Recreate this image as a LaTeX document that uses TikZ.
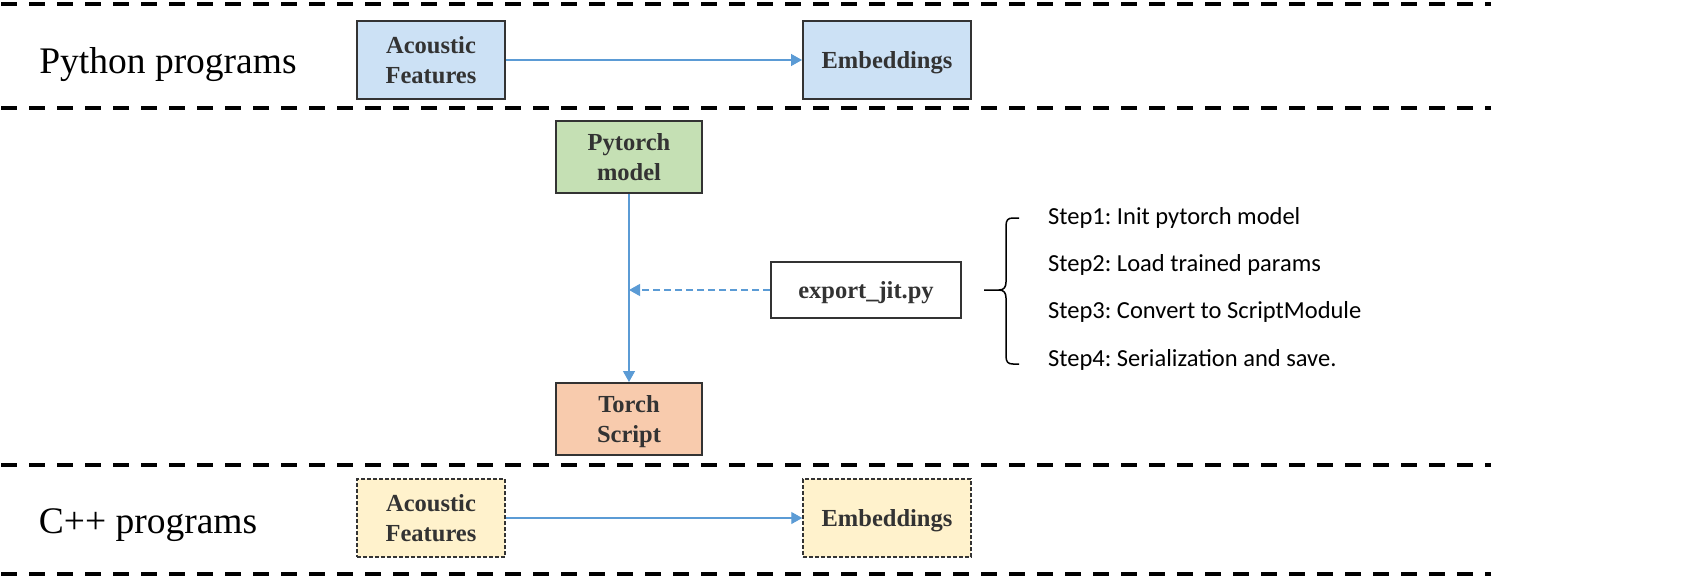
\documentclass[tikz,border=0pt]{standalone}
\usepackage{fontspec}
\setmainfont{Liberation Serif}
\newfontfamily\stepfont{Carlito}
\usetikzlibrary{arrows.meta}
\frenchspacing
\definecolor{bluefill}{HTML}{CCE1F5}
\definecolor{greenfill}{HTML}{C5E0B4}
\definecolor{orangefill}{HTML}{F8CBAD}
\definecolor{yellowfill}{HTML}{FFF2CC}
\definecolor{arrowblue}{HTML}{5B9BD5}
\definecolor{boxline}{HTML}{333333}
\tikzset{
  box/.style={draw=boxline, line width=2pt, inner sep=0pt, align=center, text depth=0pt,
    text=boxline, font=\fontsize{24.5}{30}\selectfont\bfseries},
  dbox/.style={box, line width=1.5pt, dash pattern=on 4pt off 2pt},
  flow/.style={draw=arrowblue, line width=1.3pt, -{Triangle[length=11pt,width=12pt]}},
  dflow/.style={flow, dash pattern=on 7pt off 4pt},
  sep/.style={line width=4pt, dash pattern=on 16pt off 12pt},
  lane/.style={text depth=0pt, font=\fontsize{37.5}{45}\selectfont},
  steptext/.style={anchor=base west, inner sep=0pt, font=\stepfont\fontsize{24.5}{30}\selectfont},
}
\begin{document}
\begin{tikzpicture}[x=1pt, y=-1pt]
\useasboundingbox (0,0) rectangle (1701,578);
% separators
\draw[sep] (1,4) -- (1491,4);
\draw[sep] (1,108) -- (1491,108);
\draw[sep] (1,465) -- (1491,465);
\draw[sep] (1,574) -- (1491,574);
% lane labels
\node[lane] (pylab) at (168,60) {Python programs};
\node[lane] (cplab) at (148,521) {C++ programs};
% Python lane
\node[box, fill=bluefill, minimum width=148pt, minimum height=78pt] (pyaf) at (431,60) {Acoustic\\Features};
\node[box, fill=bluefill, minimum width=168pt, minimum height=78pt] (pyemb) at (887,60) {Embeddings};
\draw[flow] (pyaf.east) -- (pyemb.west);
% export
\node[box, fill=greenfill, minimum width=146pt, minimum height=72pt] (ptm) at (629,157) {Pytorch\\model};
\node[box, fill=orangefill, minimum width=146pt, minimum height=72pt] (ts) at (629,419) {Torch\\Script};
\node[box, fill=white, minimum width=190pt, minimum height=56pt] (exp) at (866,290) {export\_jit.py};
\draw[flow] (ptm.south) -- (ts.north);
\coordinate (mid) at (ptm.south |- exp.west);
\draw[dflow] (exp.west) -- (mid);
% brace
\coordinate (btip) at (984,290);
\draw[line width=1.5pt] (btip) -- (999,290)
  .. controls (1004,290) and (1006,287) .. (1006,282) -- (1006,226)
  .. controls (1006,220) and (1008,218) .. (1013,218) -- (1019,218);
\draw[line width=1.5pt] (999,290)
  .. controls (1004,290) and (1006,293) .. (1006,298) -- (1006,356)
  .. controls (1006,362) and (1008,364) .. (1013,364) -- (1019,364);
% steps
\node[steptext] (s1) at (1048,224) {Step1: Init pytorch model};
\node[steptext] (s2) at (1048,271) {Step2: Load trained params};
\node[steptext] (s3) at (1048,318) {Step3: Convert to ScriptModule};
\node[steptext] (s4) at (1048,366) {Step4: Serialization and save.};
% C++ lane
\node[dbox, fill=yellowfill, minimum width=148pt, minimum height=78pt] (cpaf) at (431,518) {Acoustic\\Features};
\node[dbox, fill=yellowfill, minimum width=168pt, minimum height=78pt] (cpemb) at (887,518) {Embeddings};
\draw[flow] (cpaf.east) -- (cpemb.west);
\end{tikzpicture}
\end{document}
